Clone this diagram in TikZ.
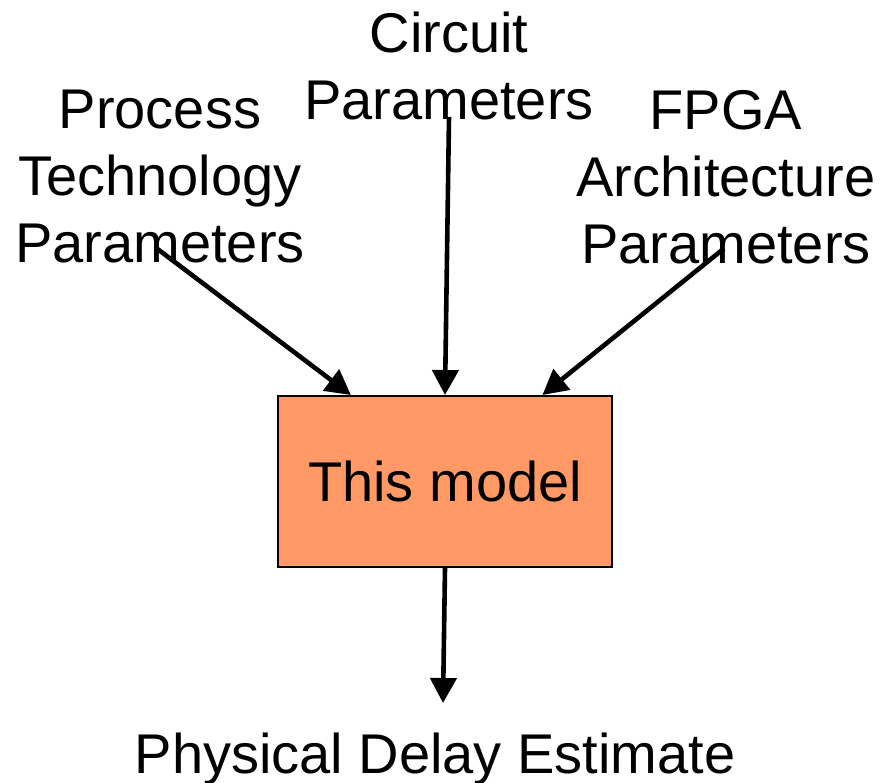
\documentclass[tikz,border=0pt]{standalone}
\usepackage{fontspec}
\setmainfont{Liberation Sans}
\usetikzlibrary{arrows.meta,calc}
\definecolor{boxorange}{RGB}{255,153,102}

\begin{document}
\begin{tikzpicture}[
  x=0.5pt, y=-0.5pt,
  >={Triangle[length=12.5pt,width=13pt]},
  every node/.style={font=\fontsize{28}{33.5}\selectfont, inner sep=0pt, align=center},
  feed/.style={->, line width=2.3pt, black},
  modelbox/.style={draw=black, line width=1pt, fill=boxorange, minimum width=167pt, minimum height=85.5pt}
]
  \useasboundingbox (0,0) rectangle (880,783);

  % the three sets of inputs
  \node[anchor=north] (proc) at (160,90) {Process\\Technology\\Parameters};
  \node[anchor=north] (circ) at (449,12) {Circuit\\Parameters};
  \node[anchor=north] (fpga) at (726,90) {FPGA\\Architecture\\Parameters};

  \node[modelbox] (model) at (445,481.5) {This model};
  \node[anchor=north] (est) at (435,733) {Physical Delay Estimate};

  % inputs feed the model, the model gives the estimate
  \draw[feed] ([xshift=-2pt,yshift=8pt]proc.south) -- ($(model.north west)!0.22!(model.north east)$);
  \draw[feed] ([yshift=2pt]circ.south) -- ($(model.north west)!0.5!(model.north east)$);
  \draw[feed] ([xshift=-1pt,yshift=8pt]fpga.south) -- ($(model.north west)!0.79!(model.north east)$);
  \draw[feed] (model.south) -- ([xshift=4pt,yshift=15pt]est.north);
\end{tikzpicture}
\end{document}
